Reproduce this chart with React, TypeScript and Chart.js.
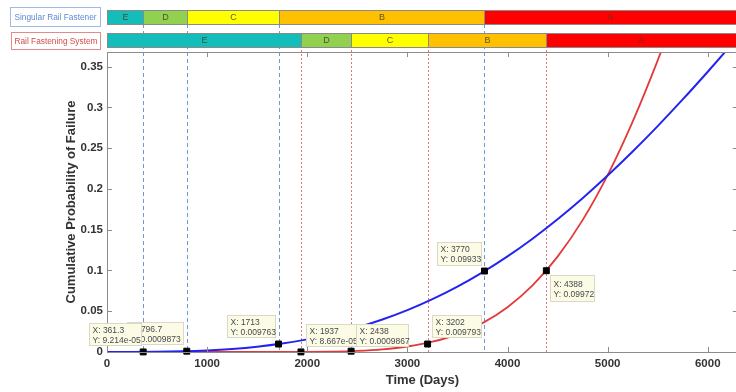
import React, { useEffect, useRef } from 'react';
import { Chart, registerables } from 'chart.js';

Chart.register(...registerables);

// ---------------- data ----------------
const timeDays = [0, 250, 500, 750, 1000, 1250, 1500, 1750, 2000, 2250, 2500, 2750, 3000, 3250, 3500, 3750, 4000, 4250, 4500, 4750, 5000, 5250, 5500, 5750, 6000, 6250, 6300];
const singularProb = [0, 0.0000305, 0.000244, 0.000823, 0.00195, 0.0038, 0.00656, 0.0104, 0.0155, 0.022, 0.03, 0.0398, 0.0513, 0.0648, 0.0802, 0.0977, 0.1173, 0.139, 0.1628, 0.1886, 0.2164, 0.2459, 0.2771, 0.3098, 0.3438, 0.3788, 0.3859];
const systemProb = [0, 0, 0, 0, 0, 0, 0.000001, 0.000023, 0.000138, 0.00051, 0.00142, 0.00331, 0.00676, 0.0126, 0.0217, 0.0354, 0.0549, 0.0816, 0.117, 0.1618, 0.217, 0.2827, 0.3578, 0.4407, 0.5281, 0.6165, 0.6338];

const markerDays = [361.3, 796.7, 1713, 3770, 1937, 2438, 3202, 4388];
const markerProb = [9.214e-5, 0.0009873, 0.009763, 0.09933, 8.667e-5, 0.0009867, 0.009793, 0.09972];
const markerXText = ['X: 361.3', 'X: 796.7', 'X: 1713', 'X: 3770', 'X: 1937', 'X: 2438', 'X: 3202', 'X: 4388'];
const markerYText = ['Y: 9.214e-05', 'Y: 0.0009873', 'Y: 0.009763', 'Y: 0.09933', 'Y: 8.667e-05', 'Y: 0.0009867', 'Y: 0.009793', 'Y: 0.09972'];

const ratingLabels = ['E', 'D', 'C', 'B', 'A'];
const singularBounds = [0, 361.3, 796.7, 1713, 3770, 6300];
const systemBounds = [0, 1937, 2438, 3202, 4388, 6300];
const singularLines = [361.3, 796.7, 1713, 3770];
const systemLines = [1937, 2438, 3202, 4388];

const rowNames = ['Singular Rail Fastener', 'Rail Fastening System'];

const xTickValues = [0, 1000, 2000, 3000, 4000, 5000, 6000];
const xTickLabels = ['0', '1000', '2000', '3000', '4000', '5000', '6000'];
const yTickValues = [0, 0.05, 0.1, 0.15, 0.2, 0.25, 0.3, 0.35];
const yTickLabels = ['0', '0.05', '0.1', '0.15', '0.2', '0.25', '0.3', '0.35'];

// ---------------- styles ----------------
const FONT = '"Liberation Sans", Arial, sans-serif';
const ratingColors = ['#12BDBA', '#92D050', '#FFFF00', '#FFC000', '#FF0000'];
// box offsets relative to marker pixel: dx, dy, w, h
const boxStyles = [
  { dx: -54, dy: -29, w: 52, h: 22 },
  { dx: -60, dy: -29, w: 56, h: 22 },
  { dx: -52, dy: -29, w: 48, h: 22 },
  { dx: -47, dy: -29, w: 44, h: 23 },
  { dx: 5, dy: -28, w: 50, h: 22 },
  { dx: 5, dy: -27, w: 52, h: 22 },
  { dx: 4, dy: -29, w: 49, h: 22 },
  { dx: 4, dy: 4, w: 44, h: 26 },
];
const boxDrawOrder = [1, 0, 2, 3, 4, 5, 6, 7];

const overlayPlugin = {
  id: 'overlay',
  beforeDatasetsDraw(chart: any) {
    const ctx = chart.ctx;
    const xs = chart.scales.x;
    const area = chart.chartArea;
    ctx.save();
    ctx.lineWidth = 1;
    ctx.strokeStyle = '#6f98d8';
    ctx.setLineDash([4, 3]);
    singularLines.forEach((v) => {
      const px = Math.round(xs.getPixelForValue(v)) + 0.5;
      ctx.beginPath();
      ctx.moveTo(px, 24);
      ctx.lineTo(px, area.bottom);
      ctx.stroke();
    });
    ctx.strokeStyle = '#e07878';
    ctx.setLineDash([2, 2]);
    systemLines.forEach((v) => {
      const px = Math.round(xs.getPixelForValue(v)) + 0.5;
      ctx.beginPath();
      ctx.moveTo(px, 46);
      ctx.lineTo(px, area.bottom);
      ctx.stroke();
    });
    ctx.restore();
  },
  afterDatasetsDraw(chart: any) {
    const ctx = chart.ctx;
    const xs = chart.scales.x;
    const ys = chart.scales.y;
    const area = chart.chartArea;
    ctx.save();
    // axes frame
    ctx.strokeStyle = '#8c8c8c';
    ctx.lineWidth = 1;
    ctx.setLineDash([]);
    ctx.beginPath();
    ctx.moveTo(area.left + 0.5, area.top + 0.5);
    ctx.lineTo(area.right - 0.5, area.top + 0.5);
    ctx.lineTo(area.right - 0.5, area.bottom + 0.5);
    ctx.lineTo(area.left + 0.5, area.bottom + 0.5);
    ctx.closePath();
    ctx.stroke();
    // inward ticks
    ctx.beginPath();
    xTickValues.forEach((v) => {
      const px = Math.round(xs.getPixelForValue(v)) + 0.5;
      ctx.moveTo(px, area.bottom);
      ctx.lineTo(px, area.bottom - 5);
      ctx.moveTo(px, area.top);
      ctx.lineTo(px, area.top + 5);
    });
    yTickValues.forEach((v) => {
      const py = Math.round(ys.getPixelForValue(v)) + 0.5;
      ctx.moveTo(area.left, py);
      ctx.lineTo(area.left + 5, py);
      ctx.moveTo(area.right, py);
      ctx.lineTo(area.right - 5, py);
    });
    ctx.stroke();

    // data tip boxes
    ctx.font = `8.5px ${FONT}`;
    ctx.textBaseline = 'middle';
    ctx.textAlign = 'left';
    boxDrawOrder.forEach((i) => {
      const px = xs.getPixelForValue(markerDays[i]);
      const py = ys.getPixelForValue(markerProb[i]);
      const s = boxStyles[i];
      const left = Math.round(px + s.dx) + 0.5;
      const top = Math.round(py + s.dy) + 0.5;
      ctx.fillStyle = '#fbfbe6';
      ctx.strokeStyle = '#d9d9c6';
      ctx.fillRect(left, top, s.w, s.h);
      ctx.strokeRect(left, top, s.w, s.h);
      ctx.fillStyle = '#4a4a4a';
      const extra = (s.h - 22) / 2;
      ctx.fillText(markerXText[i], left + 3, top + 7 + extra);
      ctx.fillText(markerYText[i], left + 3, top + 17 + extra);
    });
    ctx.restore();
  },
  afterDraw(chart: any) {
    const ctx = chart.ctx;
    const xs = chart.scales.x;
    ctx.save();
    ctx.setLineDash([]);
    const rows = [
      { bounds: singularBounds, top: 10, h: 14 },
      { bounds: systemBounds, top: 33, h: 14 },
    ];
    rows.forEach((r) => {
      for (let k = 0; k < ratingLabels.length; k++) {
        const x0 = Math.round(xs.getPixelForValue(r.bounds[k])) + 0.5;
        const x1 = Math.round(xs.getPixelForValue(r.bounds[k + 1])) + 0.5;
        ctx.fillStyle = ratingColors[k];
        ctx.fillRect(x0, r.top + 0.5, x1 - x0, r.h);
        ctx.strokeStyle = '#8a8a8a';
        ctx.lineWidth = 1;
        ctx.strokeRect(x0, r.top + 0.5, x1 - x0, r.h);
        ctx.fillStyle = 'rgba(70,60,40,0.85)';
        ctx.font = `9px ${FONT}`;
        ctx.textAlign = 'center';
        ctx.textBaseline = 'middle';
        const right = Math.min(x1, 736);
        ctx.fillText(ratingLabels[k], (x0 + right) / 2, r.top + r.h / 2 + 1);
      }
    });
    // row name boxes
    const nameBoxes = [
      { x: 10.5, y: 7.5, w: 90, h: 19, border: '#9dbbe6', color: '#5b8bd3' },
      { x: 11.5, y: 32.5, w: 89, h: 17, border: '#e38a8a', color: '#d34b4b' },
    ];
    nameBoxes.forEach((b, i) => {
      ctx.fillStyle = '#ffffff';
      ctx.fillRect(b.x, b.y, b.w, b.h);
      ctx.strokeStyle = b.border;
      ctx.lineWidth = 1;
      ctx.strokeRect(b.x, b.y, b.w, b.h);
      ctx.fillStyle = b.color;
      ctx.font = `8.3px ${FONT}`;
      ctx.textAlign = 'center';
      ctx.textBaseline = 'middle';
      ctx.fillText(rowNames[i], b.x + b.w / 2, b.y + b.h / 2 + 0.5);
    });
    ctx.restore();
  },
};

export default function App() {
  const canvasRef = useRef<HTMLCanvasElement | null>(null);

  useEffect(() => {
    const canvas = canvasRef.current;
    if (!canvas) return;
    const chart = new Chart(canvas, {
      type: 'line',
      data: {
        datasets: [
          {
            label: 'Singular Rail Fastener',
            data: timeDays.map((t, i) => ({ x: t, y: singularProb[i] })),
            borderColor: '#2424f2',
            borderWidth: 2,
            pointRadius: 0,
            cubicInterpolationMode: 'monotone',
            clip: { left: 0, top: 0, right: 0, bottom: 2 } as any,
            order: 2,
          },
          {
            label: 'Rail Fastening System',
            data: timeDays.map((t, i) => ({ x: t, y: systemProb[i] })),
            borderColor: '#e23a3a',
            borderWidth: 1.8,
            pointRadius: 0,
            cubicInterpolationMode: 'monotone',
            clip: { left: 0, top: 0, right: 0, bottom: 2 } as any,
            order: 3,
          },
          {
            label: 'Data tips',
            data: markerDays.map((t, i) => ({ x: t, y: markerProb[i] })),
            showLine: false,
            pointStyle: 'rect',
            pointRadius: 4.2,
            pointBackgroundColor: '#000000',
            pointBorderColor: '#000000',
            pointBorderWidth: 1,
            clip: false as any,
            order: 1,
          },
        ],
      },
      options: {
        responsive: false,
        animation: false,
        devicePixelRatio: 1,
        layout: { padding: { top: 52, right: 3, left: 0, bottom: 0 } },
        plugins: {
          legend: { display: false },
          tooltip: { enabled: false },
        },
        scales: {
          x: {
            type: 'linear',
            min: 0,
            max: 6300,
            afterBuildTicks: (scale: any) => {
              scale.ticks = xTickValues.map((v) => ({ value: v }));
            },
            afterFit: (scale: any) => {
              scale.height = 40;
            },
            grid: { display: false, drawTicks: false },
            border: { display: false },
            ticks: {
              autoSkip: false,
              maxRotation: 0,
              padding: 5,
              color: '#333333',
              font: { family: FONT, size: 11.5, weight: 'bold' },
              callback: (_v: any, i: number) => xTickLabels[i],
            },
            title: {
              display: true,
              text: 'Time (Days)',
              color: '#333333',
              font: { family: FONT, size: 13, weight: 'bold' },
              padding: { top: 0, bottom: 4 },
            },
          },
          y: {
            type: 'linear',
            min: 0,
            max: 0.368,
            afterBuildTicks: (scale: any) => {
              scale.ticks = yTickValues.map((v) => ({ value: v }));
            },
            afterFit: (scale: any) => {
              scale.width = 107;
            },
            grid: { display: false, drawTicks: false },
            border: { display: false },
            ticks: {
              autoSkip: false,
              padding: 4,
              color: '#333333',
              font: { family: FONT, size: 11.5, weight: 'bold' },
              callback: (_v: any, i: number) => yTickLabels[i],
            },
            title: {
              display: true,
              text: 'Cumulative Probability of Failure',
              color: '#333333',
              font: { family: FONT, size: 13, weight: 'bold' },
              padding: { top: 64, bottom: 0 },
            },
          },
        },
      } as any,
      plugins: [overlayPlugin],
    });
    return () => chart.destroy();
  }, []);

  return (
    <div style={{ position: 'fixed', left: 0, top: 0, width: 736, height: 392, overflow: 'hidden', background: '#ffffff' }}>
      <canvas ref={canvasRef} width={743} height={392} style={{ display: 'block', width: 743, height: 392 }} />
    </div>
  );
}
